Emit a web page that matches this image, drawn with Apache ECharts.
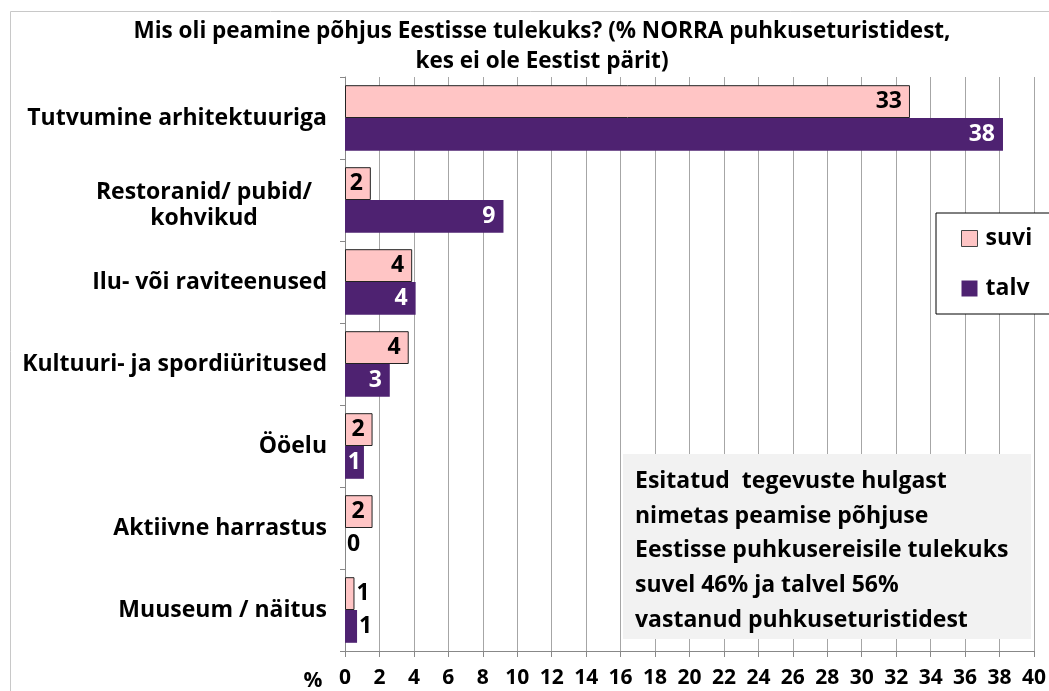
<!DOCTYPE html>
<html>
<head>
<meta charset="utf-8">
<script src="https://cdn.jsdelivr.net/npm/echarts@6/dist/echarts.min.js"></script>
<style>
  html, body { margin: 0; padding: 0; background: #fff; }
  #chart { width: 1049px; height: 691px; }
</style>
</head>
<body>
<div id="chart"></div>
<script>
// andmed
const categories = [
  'Tutvumine arhitektuuriga',
  'Restoranid/ pubid/ kohvikud',
  'Ilu- või raviteenused',
  'Kultuuri- ja spordiüritused',
  'Ööelu',
  'Aktiivne harrastus',
  'Muuseum / näitus'
]
const suvi = [32.8, 1.5, 3.9, 3.7, 1.6, 1.6, 0.55]
const talv = [38.2, 9.2, 4.1, 2.6, 1.1, 0, 0.7]
const xTicks = [0, 40, 2]   // min, max, samm
const noteLines = [
  'Esitatud  tegevuste hulgast',
  'nimetas peamise põhjuse',
  'Eestisse puhkusereisile tulekuks',
  'suvel 46% ja talvel 56%',
  'vastanud puhkuseturistidest'
]

const font = 'Open Sans'
const chart = echarts.init(document.getElementById('chart'))

// väikeste väärtuste silt läheb tulbast välja
function makeData(values, insideColor) {
  return values.map(v => ({
    value: v,
    label: v < 1
      ? { position: 'right', distance: 2, color: '#000' }
      : { position: 'insideRight', distance: v < 1.3 ? 3 : 8, color: insideColor }
  }))
}

const labelBase = {
  show: true,
  fontFamily: font,
  fontWeight: 'bold',
  fontSize: 23,
  formatter: p => Math.round(p.value)
}

const option = {
  animation: false,
  backgroundColor: '#fff',
  title: {
    text: 'Mis oli peamine põhjus Eestisse tulekuks? (% NORRA puhkuseturistidest,\nkes ei ole Eestist pärit)',
    left: 542,
    top: 17,
    textAlign: 'center',
    padding: 0,
    textStyle: { fontFamily: font, fontWeight: 'bold', fontSize: 22.5, lineHeight: 30, color: '#000' }
  },
  legend: {
    orient: 'vertical',
    left: 936,
    top: 213,
    backgroundColor: '#fff',
    borderColor: '#000',
    borderWidth: 1,
    borderRadius: 0,
    padding: [14, 60, 14, 25],
    icon: 'rect',
    itemWidth: 16,
    itemHeight: 16,
    itemGap: 27,
    data: [
      { name: 'suvi', itemStyle: { borderColor: '#444', borderWidth: 1 } },
      { name: 'talv' }
    ],
    textStyle: { fontFamily: font, fontWeight: 'bold', fontSize: 23, lineHeight: 20, color: '#000', padding: [0, 0, 0, 3] }
  },
  grid: { left: 345, right: 9, top: 77, bottom: 40, containLabel: false },
  xAxis: {
    type: 'value',
    min: xTicks[0],
    max: xTicks[1],
    interval: xTicks[2],
    axisLine: { show: true, lineStyle: { color: '#888', width: 1 } },
    axisTick: { show: true, length: 6, lineStyle: { color: '#888' } },
    splitLine: { show: true, lineStyle: { color: '#A6A6A6', width: 1 } },
    axisLabel: { fontFamily: font, fontWeight: 'bold', fontSize: 21, color: '#000', margin: 17 }
  },
  yAxis: {
    type: 'category',
    inverse: true,
    data: categories,
    axisLine: { show: true, lineStyle: { color: '#888', width: 1 } },
    axisTick: { show: true, length: 5, lineStyle: { color: '#888' } },
    axisLabel: {
      fontFamily: font,
      fontWeight: 'bold',
      fontSize: 23,
      color: '#000',
      margin: 18,
      formatter: v => v === 'Restoranid/ pubid/ kohvikud'
        ? '{a|Restoranid/ pubid/}\n{c|kohvikud}'
        : v,
      rich: {
        a: { width: 246, align: 'center', verticalAlign: 'bottom', fontFamily: font, fontWeight: 'bold', fontSize: 23, lineHeight: 36, color: '#000' },
        c: { width: 246, align: 'center', fontFamily: font, fontWeight: 'bold', fontSize: 23, lineHeight: 28, color: '#000' }
      }
    }
  },
  series: [
    {
      name: 'suvi',
      type: 'bar',
      data: makeData(suvi, '#000'),
      barGap: '0%',
      barCategoryGap: '20%',
      itemStyle: { color: '#FFC5C5', borderColor: '#222', borderWidth: 1 },
      label: labelBase
    },
    {
      name: 'talv',
      type: 'bar',
      data: makeData(talv, '#fff'),
      barGap: '0%',
      barCategoryGap: '20%',
      itemStyle: { color: '#4E2271', borderWidth: 0 },
      label: labelBase
    }
  ],
  graphic: [
    {
      type: 'rect',
      silent: true,
      z: -1,
      shape: { x: 10.5, y: 11.5, width: 1100, height: 720 },
      style: { fill: 'none', stroke: '#C8C8C8', lineWidth: 1 }
    },
    {
      type: 'text',
      x: 313,
      y: 681,
      style: { text: '%', fontFamily: font, fontWeight: 'bold', fontSize: 21, fill: '#000', textAlign: 'center', textVerticalAlign: 'middle' }
    },
    {
      type: 'rect',
      z: 100,
      shape: { x: 623, y: 454, width: 408, height: 185 },
      style: { fill: '#F2F2F2' }
    },
    {
      type: 'text',
      z: 101,
      x: 635,
      y: 464,
      style: {
        text: noteLines.join('\n'),
        fontFamily: font, fontWeight: 'bold', fontSize: 23, lineHeight: 34.7,
        fill: '#000'
      }
    }
  ]
}

chart.setOption(option)
</script>
</body>
</html>
